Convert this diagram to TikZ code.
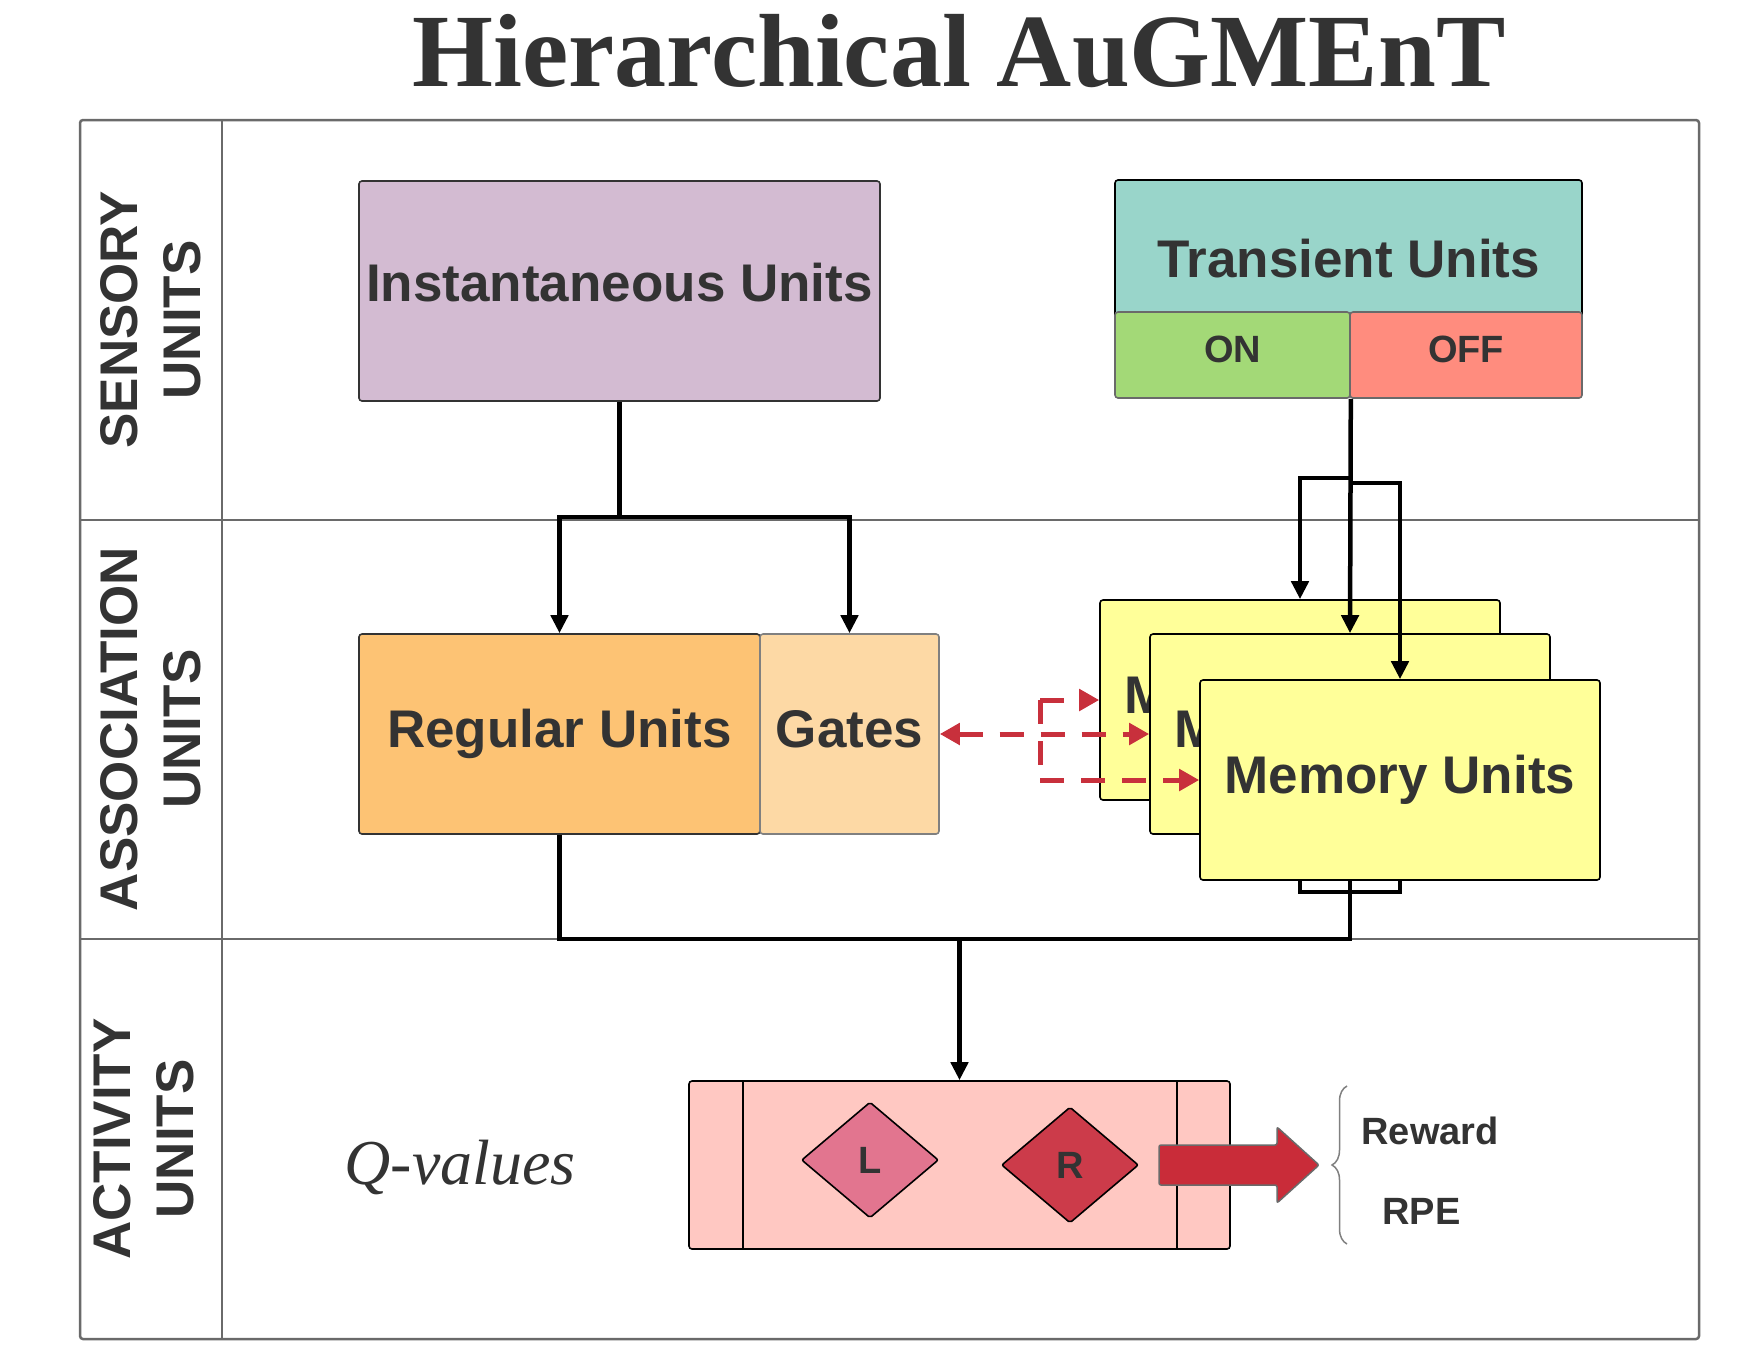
\documentclass[tikz,border=0pt]{standalone}
\usepackage{fontspec}
\setmainfont{Liberation Serif}
\setsansfont{Liberation Sans}
\usetikzlibrary{shapes.geometric,arrows.meta,decorations.pathreplacing}
\definecolor{txt}{HTML}{333333}
\definecolor{framec}{HTML}{6A6A6A}
\definecolor{instc}{HTML}{D3BBD2}
\definecolor{teal}{HTML}{99D5CA}
\definecolor{onc}{HTML}{A3D977}
\definecolor{offc}{HTML}{FF8C7E}
\definecolor{regc}{HTML}{FDC374}
\definecolor{gatec}{HTML}{FDD9A5}
\definecolor{memc}{HTML}{FFFF99}
\definecolor{qc}{HTML}{FFC8C2}
\definecolor{lc}{HTML}{E2758F}
\definecolor{rc}{HTML}{CC3B4A}
\definecolor{redc}{HTML}{C8303C}
\definecolor{bigc}{HTML}{C92C39}
\pgfdeclarelayer{bg}
\pgfsetlayers{bg,main}
\begin{document}
\begin{tikzpicture}[x=1pt,y=-1pt,
  box/.style={rectangle, rounded corners=3pt, line width=1.6pt, draw=black, text=txt,
    font=\sffamily\bfseries\fontsize{53}{60}\selectfont, inner sep=0pt},
  small/.style={text=txt, font=\sffamily\bfseries\fontsize{38}{44}\selectfont},
  side/.style={rotate=90, align=center, text=txt,
    font=\sffamily\bfseries\fontsize{53}{63}\selectfont},
  frame/.style={draw=framec, line width=2.5pt},
  conn/.style={draw=black, line width=4.5pt},
  arr/.style={-{Triangle[length=18pt,width=17pt]}},
  reddash/.style={draw=redc, line width=5pt, dash pattern=on 24pt off 17pt},
  rtip/.style={-{Triangle[length=20pt,width=21pt]}},
  dia/.style={diamond, draw=black, line width=1.6pt, inner sep=0pt, rounded corners=2pt,
    minimum width=137pt, minimum height=116pt, text=txt,
    font=\sffamily\bfseries\fontsize{38}{44}\selectfont}
]
\useasboundingbox (0,0) rectangle (1760,1360);

% title
\node[anchor=base, text=txt, font=\rmfamily\bfseries\fontsize{104}{116}\selectfont] (title) at (959,86) {Hierarchical AuGMEnT};

% side labels
\node[side] (lsens) at (151,320) {SENSORY\\UNITS};
\node[side] (lassoc) at (151,729) {ASSOCIATION\\UNITS};
\node[side] (lact) at (144,1139) {ACTIVITY\\UNITS};

% nodes
\node[box, fill=instc, draw=txt, minimum width=521pt, minimum height=220pt, text depth=18pt] (inst) at (619.5,291) {Instantaneous Units};
\node[box, fill=teal, minimum width=467pt, minimum height=158pt] (trans) at (1348.5,259) {Transient Units};
\node[box, small, fill=onc, draw=framec, minimum width=235pt, minimum height=86pt, text depth=12pt] (on) at (1232.5,355) {ON};
\node[box, small, fill=offc, draw=framec, minimum width=232pt, minimum height=86pt, text depth=12pt] (off) at (1466,355) {OFF};

\node[box, fill=regc, draw=txt, minimum width=401pt, minimum height=200pt] (reg) at (559.5,734) {Regular Units};
\node[box, fill=gatec, draw=gray, minimum width=179pt, minimum height=200pt, text depth=11pt] (gates) at (849.5,734) {Gates};

\node[box, fill=memc, minimum width=400pt, minimum height=200pt] (mem1) at (1300,700) {Memory Units};
\node[box, fill=memc, minimum width=400pt, minimum height=200pt] (mem2) at (1350,734) {Memory Units};
\node[box, fill=memc, minimum width=400pt, minimum height=200pt] (mem3) at (1400,780) {Memory Units};

\node[box, fill=qc, minimum width=541pt, minimum height=168pt] (qbox) at (959.5,1165) {};
\draw[line width=1.6pt] ([xshift=55pt]qbox.north west) -- ([xshift=55pt]qbox.south west);
\draw[line width=1.6pt] ([xshift=-54pt]qbox.north east) -- ([xshift=-54pt]qbox.south east);
\node[dia, fill=lc] (L) at (870,1160) {L};
\node[dia, fill=rc] (R) at (1070,1165) {R};

% big arrow
\draw[fill=bigc, draw=framec, line width=1.5pt, rounded corners=2pt]
  (1159,1145) -- (1277,1145) -- (1277,1127) -- (1319,1165) -- (1277,1203) -- (1277,1185) -- (1159,1185) -- cycle;

% brace and labels
\draw[draw=gray, line width=1.5pt, decorate, decoration={brace, amplitude=15pt}]
  (1347,1244) -- (1347,1086);
\node[small, anchor=west] (reward) at (1358,1131) {Reward};
\node[small, anchor=west] (rpe) at (1379,1211) {RPE};

\node[anchor=base, text=txt, font=\rmfamily\itshape\fontsize{64}{70}\selectfont] (qv) at (460,1184) {Q-values};

% frame and hidden connectors on background
\begin{pgfonlayer}{bg}
\draw[frame, rounded corners=3pt] (80,120) rectangle (1699,1339);
\draw[frame] (222,120) -- (222,1339);
\draw[frame] (80,520) -- (1699,520);
\draw[frame] (80,939) -- (1699,939);
\coordinate (bus) at (959.5,939);
\coordinate (mbus) at (1350,892);
\draw[conn] (reg.south) |- (bus);
\draw[conn] (mem2.south) |- (bus);
\draw[conn] (mem1.south) |- (mbus);
\draw[conn] (mem3.south) |- (mbus);
\end{pgfonlayer}
\draw[conn, arr] (bus) -- (qbox.north);

% top connectors
\coordinate (ij) at (619.5,517);
\draw[conn] (inst.south) -- (ij);
\draw[conn, arr] (ij) -| (reg.north);
\draw[conn, arr] (ij) -| (gates.north);

\coordinate (tj) at (on.south east);
\draw[conn, arr] (tj) -- (mem2.north);
\draw[conn, arr] (tj) -- ++(0,79) -| (mem1.north);
\draw[conn, arr] (tj) -- ++(0,84) -| (mem3.north);

% red dashed connectors
\coordinate (rj1) at (1040,700);
\coordinate (rj3) at (1040,780);
\draw[reddash, {Triangle[length=20pt,width=21pt]}-{Triangle[length=20pt,width=21pt]}] (gates.east) -- (mem2.west);
\draw[reddash] (rj1) -- (rj3);
\draw[reddash, rtip] (rj1) -- (mem1.west);
\draw[reddash, rtip] (rj3) -- (mem3.west);
\end{tikzpicture}
\end{document}
